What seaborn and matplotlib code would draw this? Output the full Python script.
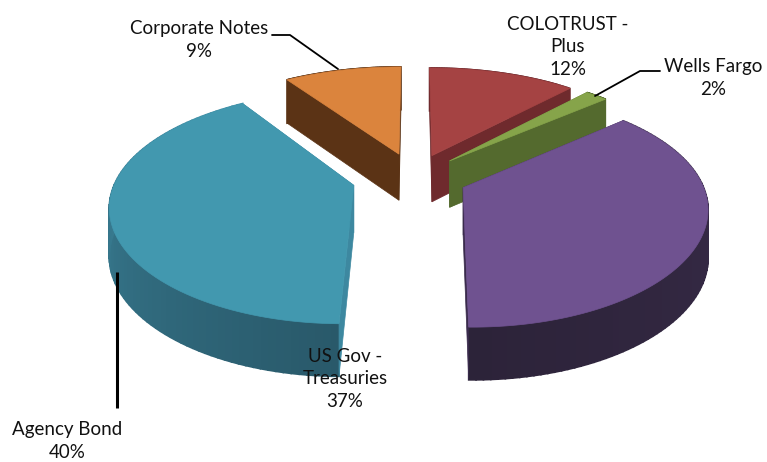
import numpy as np
import matplotlib
matplotlib.use('Agg')
import matplotlib.pyplot as plt
import seaborn as sns

# ---------- data (clockwise from 12 o'clock) ----------
categorias = ['COLOTRUST -\nPlus', 'Wells Fargo', 'US Gov -\nTreasuries', 'Agency Bond', 'Corporate Notes']
valores = [11.8, 1.8, 36.6, 40.4, 9.4]

# ---------- style ----------
cores_topo = ['#A54343', '#86A44A', '#6F5290', '#4298AF', '#DB843D']
cores_face = ['#6F2A2D', '#546A2E', '#3A2B4C', '#3D88A0', '#5B3315']
cores_borda_a = ['#6F2A2D', '#546A2E', '#3B2D4C', '#29596A', '#5B3315']
cores_borda_b = ['#6F2A2D', '#546A2E', '#2C2339', '#408EA6', '#5B3315']
explode = [0.215, 0.215, 0.225, 0.262, 0.225]
ordem = [4, 0, 1, 3, 2]   # back to front

# fake 3D: tilted disc with perspective, in figure pixels
XC, YC = 414, 177
A, B = 237, 110.3
KX, KY = 0.155, 0.179
ALTURA = 47

sns.set_theme(style='white')
plt.rcParams['font.family'] = ['Lato', 'DejaVu Sans']

fig = plt.figure(figsize=(7.67, 4.62), dpi=100)
ax = fig.add_axes([0, 0, 1, 1])
ax.set_xlim(0, 767)
ax.set_ylim(462, 0)
ax.axis('off')


def projeta(u, v):
    sx = 1 / (1 + KX * v)
    sy = 1 / (1 + KY * v)
    return XC + A * u * sx, YC - B * v * sy, ALTURA * (0.5 + 0.5 * sy)


def misturar(c1, c2, f):
    c1 = np.array(matplotlib.colors.to_rgb(c1))
    c2 = np.array(matplotlib.colors.to_rgb(c2))
    return tuple(c1 + (c2 - c1) * f)


fracoes = np.array(valores) / sum(valores)
limites = np.concatenate([[0], np.cumsum(fracoes)]) * 360

for i in ordem:
    t0, t1 = limites[i], limites[i + 1]
    camada = ordem.index(i) * 3
    meio = np.radians((t0 + t1) / 2)
    ex, ey = explode[i] * np.sin(meio), explode[i] * np.cos(meio)
    t = np.radians(np.linspace(t0, t1, 90))
    x, y, h = projeta(ex + np.sin(t), ey + np.cos(t))
    x0, y0, h0 = projeta(ex, ey)

    # outer wall as thin strips so the shading can vary along the arc
    for j in range(len(t) - 1):
        cor = misturar(cores_borda_a[i], cores_borda_b[i], j / (len(t) - 2))
        ax.fill([x[j], x[j + 1], x[j + 1], x[j]],
                [y[j], y[j + 1], y[j + 1] + h[j + 1], y[j] + h[j]],
                color=cor, lw=1.2, zorder=camada + 1)

    # radial cut faces
    for k in [0, -1]:
        ax.fill([x0, x[k], x[k], x0],
                [y0, y[k], y[k] + h[k], y0 + h0],
                color=cores_face[i], lw=0.5, zorder=camada + 2)

    # top face
    ax.fill(np.concatenate([[x0], x]), np.concatenate([[y0], y]),
            color=cores_topo[i], lw=0.5, zorder=camada + 3)

# ---------- leader lines ----------
ax.plot([272, 290, 338], [35, 35, 69], color='black', lw=1.3, zorder=30)
ax.plot([660, 640, 595], [71, 71, 96], color='black', lw=1.3, zorder=30)
ax.plot([117, 117], [272, 408], color='black', lw=2.2, zorder=30, solid_capstyle='butt')

# ---------- labels ----------
pos_rotulos = [(568, 47), (713, 78), (345, 379), (67, 441), (199, 40)]
for nome, v, (px, py) in zip(categorias, valores, pos_rotulos):
    ax.text(px, py, f'{nome}\n{v:.0f}%', ha='center', va='center',
            fontsize=13.5, color='#111111', linespacing=1.42, zorder=31)

plt.savefig('out.png', dpi=100)
plt.close()
